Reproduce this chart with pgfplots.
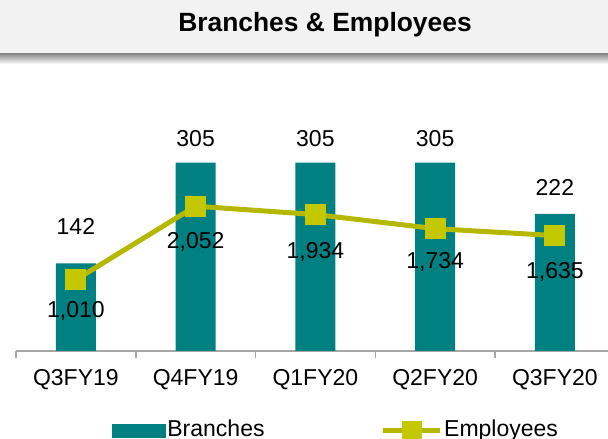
\documentclass[border=0pt]{standalone}
\usepackage{fontspec}
\setmainfont{Liberation Sans}
\usepackage{pgfplots}
\usepackage{pgfplotstable}
\pgfplotsset{compat=1.18}

\definecolor{barteal}{HTML}{008080}
\definecolor{lineolive}{HTML}{B5B800}
\definecolor{markolive}{HTML}{C4C800}
\definecolor{band}{HTML}{F2F2F2}
\definecolor{axisgray}{HTML}{A6A6A6}

% off = shift of the value label from the data point (pt)
\pgfplotstableread{
x y off
0 142 36.5
1 305 24.5
2 305 24.5
3 305 24.5
4 222 26
}\branches
\pgfplotstableread{
x y off
0 1010 -31
1 2052 -36
2 1934 -37
3 1734 -33
4 1635 -36
}\employees

\newcommand{\lbl}{\fontsize{23}{27}\selectfont}

\pgfplotsset{
  base/.style={
    at={(16pt,88pt)}, anchor=south west,
    scale only axis, width=598.75pt, height=247pt,
    xmin=-0.5, xmax=4.5, ymin=0,
    clip=false,
    /pgf/number format/assume math mode=true,
    /pgf/number format/1000 sep={,},
    nodes near coords,
    visualization depends on={\thisrow{off}\as\myoff},
    nodes near coords style={font=\lbl, anchor=center, yshift=\myoff, text=black},
  }
}

\begin{document}
\begin{tikzpicture}[x=1pt,y=1pt]
\path[use as bounding box, clip] (0,0) rectangle (608,439);
\fill[band] (0,385) rectangle (608,439);
\shade[top color=black!45, bottom color=white] (0,375) rectangle (608,385);
\node[font=\bfseries\fontsize{26.4}{31}\selectfont] at (325,414) {Branches \& Employees};

% branches, left scale
\begin{axis}[base,
  ymax=400,
  axis x line*=bottom, axis y line=none, ytick=\empty,
  x axis line style={axisgray, line width=1.5pt},
  xtick={0,...,4},
  xticklabels={Q3FY19,Q4FY19,Q1FY20,Q2FY20,Q3FY20},
  major tick length=0pt,
  xticklabel style={font=\lbl, anchor=center, yshift=-29pt},
  extra x ticks={-0.5,0.5,1.5,2.5,3.5,4.5},
  extra x tick labels={},
  extra x tick style={major tick length=7pt, tick align=outside,
    major tick style={axisgray, line width=1.5pt}},
]
\addplot[ybar, bar width=40pt, fill=barteal, draw=none] table[x=x,y=y] {\branches};
\end{axis}

% employees, right scale
\begin{axis}[base,
  ymax=3500,
  hide axis,
  legend columns=2,
  legend cell align=left,
  legend style={at={(0.16,-0.316)}, anchor=west, draw=none, fill=none,
    inner sep=0pt, font=\lbl,
    /tikz/every even column/.append style={column sep=114pt}},
]
\addlegendimage{legend image code/.code={\fill[barteal] (0pt,-8pt) rectangle (53pt,5pt);}}
\addlegendentry{Branches}
\addplot[lineolive, line width=5pt, mark=square*, mark size=10pt,
  mark options={fill=markolive, draw=markolive, line width=0pt},
  legend image code/.code={
    \draw[lineolive, line width=5pt] (0pt,-1.3pt) -- (56.6pt,-1.3pt);
    \fill[markolive] (21.3pt,-8pt) rectangle (36.3pt,5.3pt);}]
  table[x=x,y=y] {\employees};
\addlegendentry{Employees}
\end{axis}
\end{tikzpicture}
\end{document}
